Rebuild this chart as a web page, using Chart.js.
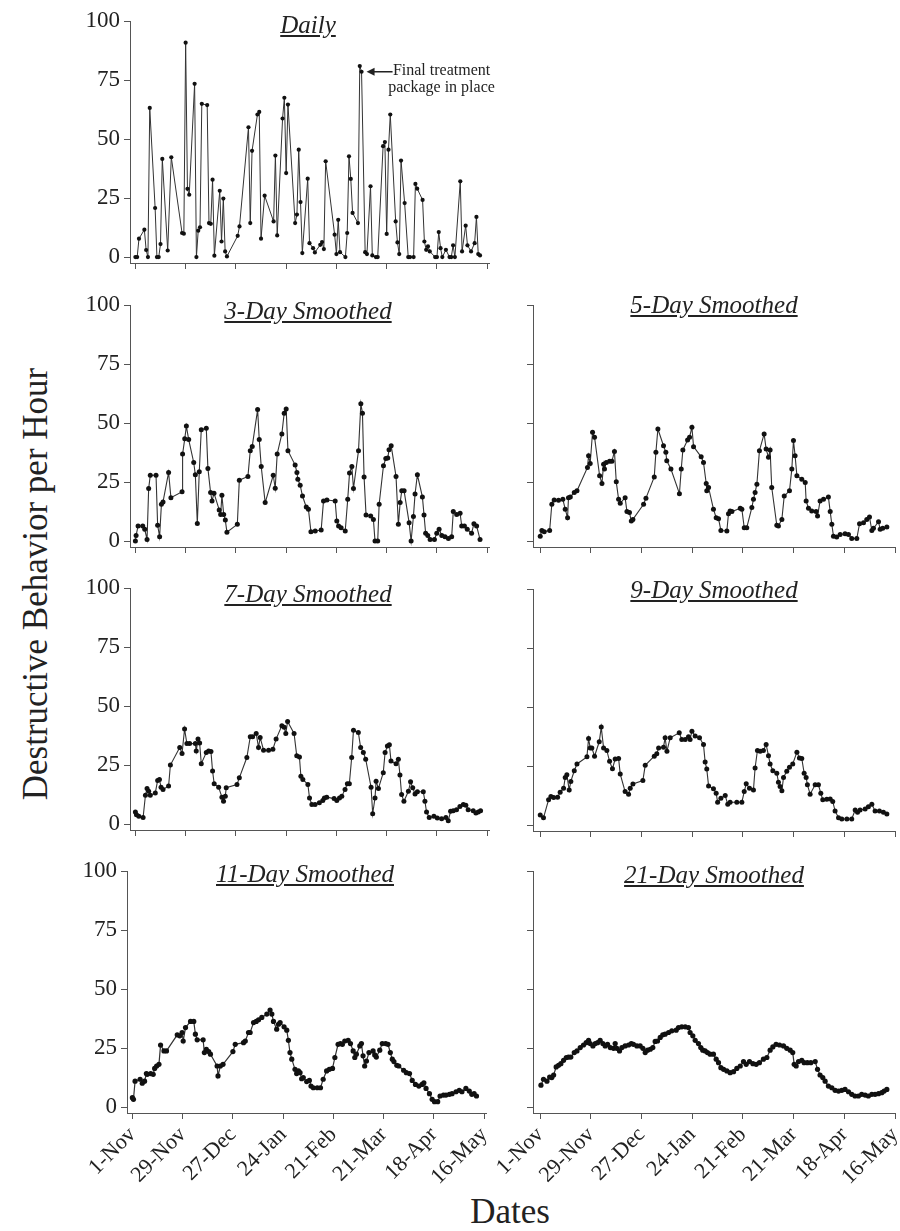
<!DOCTYPE html>
<html>
<head>
<meta charset="utf-8">
<script src="https://cdn.jsdelivr.net/npm/chart.js@4.4.1/dist/chart.umd.min.js"></script>
<style>
  body { margin: 0; background: #fff; }
  #wrap { position: relative; width: 900px; height: 1231px; overflow: hidden;
          font-family: "Liberation Serif", "Times New Roman", serif; color: #222; }
  #wrap canvas { position: absolute; }
  .title { position: absolute; font-style: italic; text-decoration: underline;
           font-size: 25px; line-height: 25px; white-space: nowrap; transform: translateX(-50%); }
  .axis-title { position: absolute; font-size: 35px; line-height: 35px; white-space: nowrap; }
</style>
</head>
<body>
<div id="wrap">
  <div class="axis-title" style="left:35px; top:584px; transform:translate(-50%,-50%) rotate(-90deg);">Destructive Behavior per Hour</div>
  <div class="axis-title" style="left:510px; top:1211px; transform:translate(-50%,-50%);">Dates</div>
</div>

<script>
// days counted from 1-Nov
const tickDays = [0, 28, 56, 84, 112, 140, 168, 196];
const tickLabels = ["1-Nov", "29-Nov", "27-Dec", "24-Jan", "21-Feb", "21-Mar", "18-Apr", "16-May"];
const yTicks = [0, 25, 50, 75, 100];

const dailyDays = [0,1,2,5,6,7,8,11,12,13,14,15,18,20,26,27,28,29,30,33,34,35,36,37,40,41,42,43,44,47,48,49,50,51,57,58,63,64,65,68,69,70,72,77,78,79,82,83,84,85,89,90,91,92,93,96,97,99,100,103,104,105,106,111,112,113,114,117,118,119,120,121,124,125,126,128,129,131,132,134,135,138,139,140,141,142,145,146,147,148,150,152,153,155,156,157,160,161,162,163,164,167,168,169,170,171,173,175,176,177,178,181,182,184,185,187,189,190,191,192];
const dailyVals = [0,0,7.8,11.6,3,0,63.2,20.8,0,0,5.5,41.6,2.8,42.3,10.2,9.9,90.8,28.9,26.4,73.4,0,11.2,12.6,64.9,64.4,14.4,14.1,32.8,0.6,28.1,6.6,24.8,2.4,0.3,9,13,55,14.4,45,60.4,61.5,7.8,26,15.1,43,9.2,58.7,67.5,35.6,64.6,14.4,18,45.5,23.3,1.7,33.2,5.9,3.8,2,5.2,6.4,3.4,40.6,9.5,1.3,15.8,2.1,0,10.2,42.7,33.1,18.7,14.4,80.9,78.5,2.1,1.3,30,0.7,0,0,47,48.7,9.8,45.5,60.4,15.1,6.2,1.3,40.9,22.9,0,0,0,31,29,24.2,6.6,3.1,4.5,2.4,0,0,10.6,3.8,0,3.1,0,0,5,0,32.1,2.4,13.3,5,2.4,5.9,17,1.3,0.7];

const days3 = [0,0.4,1.5,4.1,5.2,6.5,7.4,8.3,11.5,12.4,13.5,14.5,15.4,18.5,19.8,26,26.3,27.5,28.4,29.7,32.5,33.4,34.5,35.6,36.7,39.5,40.4,41.9,42.7,43.8,46.7,47.5,48.2,49.2,50.1,51,56.8,57.9,62.7,64,65.1,68.1,69,70.1,72.3,76.8,77.9,79,81.6,82.9,84,85,89,90,90.5,91.8,93.1,95.2,96.4,97.8,100.2,103.5,104.8,106.7,111.3,112.2,113.2,114.6,116.9,118.3,119.3,120.6,121.5,124.3,125.6,126.5,127.4,128.5,131.1,132.6,133.5,135,135.8,138.2,139.5,140.6,141.3,142.5,145.2,146.5,147.5,148.4,149.7,152.5,153.6,154.9,155.8,157.1,159.9,160.8,161.7,162.9,164.2,166.6,167.9,169.2,170.7,172.5,174.4,176.2,177.1,179,180.9,181.8,183.3,184.9,187.3,188.6,190.1,192];
const vals3 = [0,2.4,6.4,6.4,5,0.7,22.3,27.9,27.9,6.7,1.8,15.6,16.6,29.1,18.4,20.9,36.9,43.3,48.7,43,33.3,28.1,7.5,29.4,47.2,47.8,30.8,20.6,17,20.3,13.2,11.3,19.4,11.3,8.9,3.8,7.1,25.8,27.4,38.3,40.1,55.7,43,31.6,16.3,27.9,22.4,36.9,45.4,54.2,56,38.3,32.2,29.1,26.2,23.7,19.1,14.4,13.5,4,4.3,4.7,17,17.4,17,8.5,6.4,5.7,4.3,17.7,28.8,31.6,22.3,38.3,58.2,54.2,27.2,11.1,10.6,9.2,0,0,15.6,31.9,35,35.2,38.7,40.4,27.4,7.1,16.3,21.3,21.3,7.8,0,10.4,19.9,28.1,18.7,11.1,3.3,2.4,0.7,0.7,3.3,5,2.4,1.8,1.1,1.8,12.5,11.3,11.8,6.4,6.4,5,3.3,7.4,6.4,0.7];

const days5 = [0,0.9,2.2,5.2,6.4,7.7,10.1,12.5,13.8,15.1,15.6,16.6,18.8,20.3,26.1,26.7,27.6,28.9,30,32.8,34.1,35,35.5,36.5,38.3,39.6,41,42,43.3,44.2,46.9,47.9,49.3,50.3,51.2,57.1,58.4,63,63.9,65,68.1,69.4,69.9,72.2,76.9,77.9,78.8,81.4,82.5,83.8,84.7,88.9,90.2,91.7,92,93,95.7,97.2,98.5,99.8,103.1,104,104.9,105.9,110.5,111.4,112.7,114.1,116.9,117.8,118.7,119.7,121.1,123.7,124.8,126.1,127,127.9,130.7,131.6,133.5,134.8,137.7,139,139.9,140.8,141.8,144.5,146.4,146.9,148.2,150,152.4,153.2,154.6,156.5,159.2,160.2,161.1,162,163.8,165.7,168.4,170.3,172.1,174.9,176.4,178.6,180.4,181.9,183.2,184.1,186.9,187.8,189.2,191.5];
const vals5 = [2.1,4.5,4,4.5,15.6,17.4,17.3,17.7,13.5,9.9,18.4,18.7,20.6,21.3,31.2,36.2,32.9,46.1,44,27.7,24.4,32.6,30.5,33.3,33.8,33.8,38,25.1,17.7,16,18.4,12.5,12.1,8.5,9.2,15.6,18.2,27.2,37.6,47.5,40.4,37.6,34,30.5,20.1,30.5,38.6,42.8,44,48.2,40,35.7,33.3,24.4,21.3,22.7,13.5,9.9,9.5,4.5,4.3,11.6,12.8,12.5,13.9,13.5,5.7,5.7,14.2,17.7,20.6,24.1,38.3,45.4,39,35.5,38.6,22.7,6.7,6.4,9.2,19.1,21.3,30.5,42.6,36.2,27.7,26.2,24.8,17,13.9,12.8,12.5,10.6,17,17.7,18.7,12.5,7.1,2.1,1.7,2.8,3.1,2.8,1.1,1.1,7.4,7.8,9.2,10.2,4.5,5.4,8.2,5,5.4,6];

const days7 = [0,0.6,1.9,4.3,5.6,6.5,7.4,8.3,11.1,12.4,13.4,14.3,15.4,18.5,19.5,24.7,26,27.4,28.7,30.2,33.4,33.9,34.9,35.8,36.7,39.5,40.8,42.1,43,43.9,46.4,48.2,49.1,50.1,50.6,56.6,57.9,62.1,64,65.3,67.3,68.6,69.5,71.4,74.2,76.6,78.4,81.6,82.9,83.8,84.8,88.4,89.9,91.4,92.2,93.3,96.1,97,98.3,100.1,102.5,104.4,105.3,106.6,110.7,112.2,113.7,115,116.8,118.1,119.2,120.5,121.5,124.2,125.5,127,128.3,131.3,132.2,133.5,134.1,135.4,138.1,139.1,140.4,141.5,142.4,145.2,146.5,147.4,148.3,149.6,152.1,153.3,154.5,155.8,157.1,160.4,161.3,162.2,163.7,166.3,168.2,170.6,173,174.3,175.6,177.1,178.9,180.8,182.7,184.1,185.4,188.2,189.7,191,192.3];
const vals7 = [5.1,4,3.3,2.8,12.2,15.1,13.9,12.2,13.2,18.5,18.9,15.6,14.7,16.1,25,32.4,29.9,40.3,34.1,34.1,34.1,31,36,34.3,25.6,30.3,31,30.7,22.5,17.1,15.6,11.4,9.7,11.8,15.4,16.8,19.6,28.2,37,37,38.4,32.4,36.7,31.3,31.3,31.7,36,41.7,41,38.4,43.5,38.4,28.9,28.4,20.3,18.9,16.8,11.1,8.3,8.3,9,10,11.1,11.4,10.8,10,11.1,11.8,14.7,17.1,17.1,28.2,39.8,38.8,32.4,30.3,27.5,15.6,4.4,11.1,18.2,15.1,21.8,30.3,33.1,33.6,26.7,25.6,27.5,20.8,12.5,9.7,13.9,17.9,15.4,12.8,13.7,13.7,9.7,5.1,2.8,3.3,2.6,2.3,2.8,1.4,5.4,5.7,6.1,7.5,8.3,8,6.1,5.7,4.7,5.1,5.7];

const days9 = [0,1.8,4.6,5.9,7.4,9.6,11,12.9,13.8,14.7,16,16.9,18.8,20.3,25.8,26.7,27.6,28.5,30,32.6,33.7,35,36.8,38.3,39.9,41.4,43.3,44.2,46.9,48.8,49.7,51.2,56.7,58,63,64.4,65.4,68.1,69,70,71.8,76.8,78.2,80.1,81.9,82.8,83.8,85.6,88,90.2,91.1,92,93,95.7,97.2,98,99.8,102.2,103.6,104.9,108.6,111.4,112.7,113.8,115.6,117.8,118.7,120,121.5,123.3,124.8,126.1,127,128.5,130.7,131.6,132.5,133.5,134.4,136.2,137.7,139.5,141.8,143.2,144.5,145.8,146.9,147.6,149.1,151.9,153.7,155,156.1,158.3,160.2,161.6,162.9,164.8,166.6,169.4,172.1,174,175.3,176.7,179.5,181.3,183.2,185,187.4,189.6,191.5];
const vals9 = [4.3,3.1,10.7,12.1,11.7,11.8,13.9,15.6,20.2,21.3,14.9,18.5,23,25.9,28.9,36.7,32.7,32.7,29.2,35.3,41.5,32.7,31.6,27,23.9,28,28.2,21.6,14.2,13.1,15.6,17.4,18.9,25.3,29.2,30.2,32.7,33,37,31.3,37,39.1,36.3,36.3,37.4,36.3,39.8,37.7,37,34.1,26.7,23.8,16.6,15.4,13.5,9.7,11.4,12.5,8.8,9.7,9.7,9.7,14.2,17.5,15.6,14.9,24.2,31.6,31.3,31.6,34.1,29.4,25.9,23,22,18.2,16.4,14.5,20.2,22.8,24.5,25.9,30.9,28.4,28.2,22,20.2,17.1,13.1,17.1,17.1,13.5,10.7,11,11.1,10,6,3.1,2.6,2.6,2.6,6.4,5.4,6.4,6.8,7.8,8.8,6,6,5.4,4.7];

const days11 = [0,0.6,1.5,4.3,5.5,6.8,7.8,8.3,10.2,11.6,12.4,13.5,14.8,15.7,17.6,19,25,26.4,27.7,28.3,29.6,32.4,34.2,35.1,36.1,39.4,40.1,41.2,42.5,43.5,47.2,47.7,49,50.5,56,57.3,61.9,62.9,64.7,65.6,67.5,69,70.3,72.1,74.9,76.7,77.7,78.6,80.4,81.4,82.3,84.5,86,86.9,87.8,88.8,90.6,91.5,92.5,93.4,94.3,95.2,97.1,98.6,99.5,100.8,103,104.8,106.3,108.2,109.7,111.5,112.8,114.6,115.9,117,118.3,120.2,121.5,123,123.9,124.8,126.7,127.6,128.5,129.4,130.4,131.8,134.1,135,135.9,137.8,139.2,141.1,142.4,143.7,144.8,145.7,147.3,148.4,151.1,152.6,154.4,155.9,157.7,159.6,161.4,162.4,163.6,165.5,167,168.3,170.1,171.4,173.3,174.7,176.6,178.1,180.3,182.1,183.6,185.8,187.7,189.1,190.4,191.7];
const vals11 = [4,3.3,11,11.8,10.1,11,14.2,13.9,14.2,13.9,16.4,17.4,18.1,26.3,23.8,23.8,30.6,30.2,31.6,28,33.7,36.3,36.3,30.9,28.5,28.5,23.1,24.5,23.5,22.4,17.4,13.2,17.4,18.1,23.5,26.6,27.3,28,31.6,31.6,35.8,36.3,37,38,39.4,41.1,39.4,36.3,33,35.1,35.8,34,32.6,28.3,23.1,20.3,16,14.2,15.3,14.6,12,12.5,10.8,11.3,8.9,8.2,8.2,8.2,11.8,15.3,16,16.4,21,26.6,26.9,26.6,28,28.3,26.9,23.8,21,22.4,25.9,26.9,21.7,17.4,19.5,23.1,23.8,22.1,21.2,24.1,26.9,26.9,26.6,23.1,20.3,19.3,17.7,17.4,15.6,14.6,14.2,11.3,9.6,8.9,9.6,10.3,7.9,5.7,3.3,2.3,2.3,4.7,5.1,5.1,5.4,5.7,6.5,7.1,6.5,7.9,6.8,5.4,5.7,4.7];

const days21 = [0.4,1.8,3.7,5.2,6.4,7.4,8.8,10.1,11.4,12.9,14.4,15.6,16.9,18.8,20.3,22.1,23.9,25.4,26.7,27.6,29.1,30.4,31.7,33.1,34.6,35.9,37.2,38.7,40.5,41.4,42.3,43.8,45.1,46.9,48.8,50.3,51.5,53.4,55.2,56.7,58,59.3,60.8,62.2,63.5,64.8,66.3,67.7,69,70.9,72.7,75.1,76.4,78.2,80.1,81.9,82.8,84.3,85.6,87.4,88.7,89.8,91.1,92.4,93.9,95.7,97.2,98.5,99.8,101.3,103.1,104.9,106.8,108.6,110.5,112.3,113.8,115.6,117.5,119.3,121.1,123.3,125.2,127,128.5,130.3,132.2,134.4,136.2,138.1,139.5,140.3,141.4,142.7,144.5,145.8,147.6,149.5,151.9,153.2,154.6,156.1,157.4,159.2,161.1,162.9,164.8,166.6,168.4,170.3,172.1,173.9,175.8,177.6,179.5,181.3,183.2,185,186.9,188.7,190,191.5];
const vals21 = [9.3,11.8,11,12.7,12.5,13.6,17,17.7,18.4,19.8,21,21.2,21.2,23.1,23.8,25.2,26.3,27.3,28.3,26.9,25.9,26.9,27.3,28.3,26.9,25.9,26.6,25.2,24.9,26.9,24.9,23.8,25.2,25.9,26.3,26.9,26.6,25.9,25.9,24.9,23.1,24.1,24.5,25.2,27.8,28,29.5,30.6,30.9,31.6,32.3,32.6,33.7,34,34,33.7,31.6,30.2,28.3,26.9,25.2,24.1,23.8,23.1,22.4,22.4,20.3,18.8,16.7,16,15.3,14.6,15,16.4,17.4,19.3,18.1,19.3,18.4,18.1,18.8,20.3,21,24.1,25.5,26.6,26.3,25.9,24.9,24.1,23.1,18.1,17.4,19.3,19.8,18.8,18.8,18.8,19.3,16,13.6,12.5,11,8.9,8.2,7.1,6.8,7.1,7.5,6.5,5.4,4.7,4.7,5.4,5.1,4.7,5.4,5.4,5.7,6.1,6.8,7.5];

// layout of the seven panels (plot area edges in page pixels)
const FONT = '"Liberation Serif", "Times New Roman", serif';
const PLOT_H = 242;
const LEFT = { plotLeft: 130, plotRight: 489, xMin: -3, xMax: 197, yLabels: true };
const RIGHT = { plotLeft: 533, plotRight: 895, xMin: -4, xMax: 196, yLabels: false };

const panels = [
  { title: "Daily", days: dailyDays, vals: dailyVals, col: LEFT, top: 21, xLabels: false, titleX: 308, titleTop: 12, r: 2.1, lw: 1, note: true },
  { title: "3-Day Smoothed", days: days3, vals: vals3, col: LEFT, top: 305, xLabels: false, titleX: 308, titleTop: 298, r: 2.5, lw: 1.1 },
  { title: "5-Day Smoothed", days: days5, vals: vals5, col: RIGHT, top: 305, xLabels: false, titleX: 714, titleTop: 292, r: 2.5, lw: 1.1 },
  { title: "7-Day Smoothed", days: days7, vals: vals7, col: LEFT, top: 588, xLabels: false, titleX: 308, titleTop: 581, r: 2.5, lw: 1.1 },
  { title: "9-Day Smoothed", days: days9, vals: vals9, col: RIGHT, top: 589, xLabels: false, titleX: 714, titleTop: 577, r: 2.5, lw: 1.1 },
  { title: "11-Day Smoothed", days: days11, vals: vals11, col: Object.assign({}, LEFT, { plotLeft: 127, plotRight: 486 }), top: 871, xLabels: true, titleX: 305, titleTop: 861, r: 2.6, lw: 1.2 },
  { title: "21-Day Smoothed", days: days21, vals: vals21, col: RIGHT, top: 871, xLabels: true, titleX: 714, titleTop: 862, r: 2.6, lw: 1.2 }
];

// arrow + text next to the daily peak
const notePlugin = {
  id: 'note',
  afterDatasetsDraw(chart) {
    if (!chart.options.plugins.note.show) return;
    const ctx = chart.ctx;
    const x = chart.scales.x, y = chart.scales.y;
    const tipX = x.getPixelForValue(126) + 5;
    const tipY = y.getPixelForValue(78.5);
    ctx.save();
    ctx.strokeStyle = '#222';
    ctx.fillStyle = '#222';
    ctx.lineWidth = 1.5;
    ctx.beginPath();
    ctx.moveTo(tipX + 6, tipY);
    ctx.lineTo(tipX + 26, tipY);
    ctx.stroke();
    ctx.beginPath();
    ctx.moveTo(tipX, tipY);
    ctx.lineTo(tipX + 8, tipY - 4);
    ctx.lineTo(tipX + 8, tipY + 4);
    ctx.closePath();
    ctx.fill();
    ctx.font = '16px ' + FONT;
    ctx.textAlign = 'center';
    ctx.textBaseline = 'alphabetic';
    ctx.fillText('Final treatment', tipX + 75, tipY + 3);
    ctx.fillText('package in place', tipX + 75, tipY + 20);
    ctx.restore();
  }
};

const wrap = document.getElementById('wrap');

panels.forEach(p => {
  const c = p.col;
  const yW = 50, padTop = 15, padRight = 8;
  const xH = p.xLabels ? 95 : 10;
  const canvas = document.createElement('canvas');
  canvas.width = yW + (c.plotRight - c.plotLeft) + padRight;
  canvas.height = padTop + PLOT_H + xH;
  canvas.style.left = (c.plotLeft - yW) + 'px';
  canvas.style.top = (p.top - padTop) + 'px';
  canvas.style.width = canvas.width + 'px';
  canvas.style.height = canvas.height + 'px';
  wrap.appendChild(canvas);

  const t = document.createElement('div');
  t.className = 'title';
  t.style.left = p.titleX + 'px';
  t.style.top = p.titleTop + 'px';
  t.textContent = p.title;
  wrap.appendChild(t);

  new Chart(canvas, {
    type: 'line',
    data: {
      datasets: [{
        data: p.days.map((d, i) => ({ x: d, y: p.vals[i] })),
        borderColor: '#333',
        borderWidth: p.lw,
        pointRadius: p.r,
        pointBackgroundColor: '#111',
        pointBorderColor: '#111',
        pointBorderWidth: 0,
        tension: 0,
        clip: false
      }]
    },
    options: {
      responsive: false,
      animation: false,
      devicePixelRatio: 1,
      layout: { padding: { top: padTop, right: padRight, bottom: 0, left: 0 } },
      plugins: {
        legend: { display: false },
        tooltip: { enabled: false },
        note: { show: !!p.note }
      },
      scales: {
        x: {
          type: 'linear',
          min: c.xMin,
          max: c.xMax,
          afterBuildTicks: s => { s.ticks = tickDays.map(v => ({ value: v })); },
          afterFit: s => { s.height = xH; s.paddingLeft = 0; s.paddingRight = 0; },
          grid: { drawOnChartArea: false, drawTicks: true, tickLength: 6, color: '#555', lineWidth: 1 },
          border: { display: true, color: '#555', width: 1 },
          ticks: {
            display: p.xLabels,
            autoSkip: false,
            minRotation: 45,
            maxRotation: 45,
            padding: 3,
            color: '#222',
            font: { family: FONT, size: 22 },
            callback: v => tickLabels[tickDays.indexOf(v)]
          }
        },
        y: {
          min: -2.5,
          max: 100,
          afterBuildTicks: s => { s.ticks = yTicks.map(v => ({ value: v })); },
          afterFit: s => { s.width = yW; s.paddingTop = 0; s.paddingBottom = 0; },
          grid: { drawOnChartArea: false, drawTicks: true, tickLength: 6, color: '#555', lineWidth: 1 },
          border: { display: true, color: '#555', width: 1 },
          ticks: {
            display: c.yLabels,
            padding: 4,
            color: '#222',
            font: { family: FONT, size: 23 }
          }
        }
      }
    },
    plugins: [notePlugin]
  });
});
</script>
</body>
</html>
